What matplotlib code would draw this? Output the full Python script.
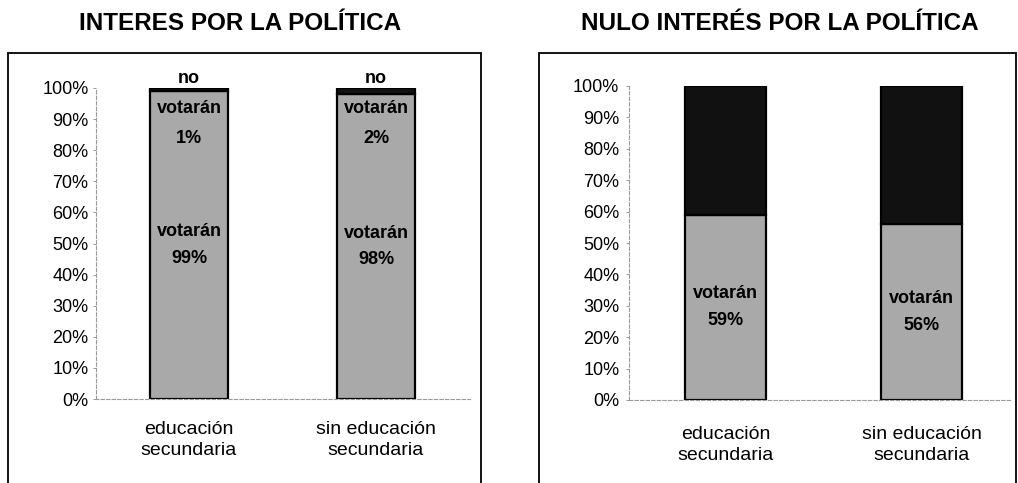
import matplotlib.pyplot as plt
from matplotlib.patches import Rectangle

plt.rcParams["font.family"] = ["Liberation Sans", "DejaVu Sans"]

categories = ["educación\nsecundaria", "sin educación\nsecundaria"]
interes_votaran = [0.99, 0.98]
interes_no_votaran = [0.01, 0.02]
nulo_votaran = [0.59, 0.56]
nulo_no_votaran = [0.41, 0.44]
yticks = [i / 10 for i in range(11)]
ytick_labels = [f"{int(t * 100)}%" for t in yticks]

GRAY = "#a9a9a9"
DARK = "#111111"
W, H = 1018, 483

fig = plt.figure(figsize=(W / 100, H / 100), dpi=100)

# outer frames of the two panels (bottom edge runs off the picture)
for x0, x1 in [(8, 481), (539, 1016)]:
    fig.patches.append(Rectangle((x0 / W, -0.05), (x1 - x0) / W, (H - 53) / H + 0.05,
                                 transform=fig.transFigure, fill=False,
                                 edgecolor="black", linewidth=1.3))


def panel(rect, xlim, votaran, no_votaran, title, title_x, label_top, tick_pad, cat_pad):
    ax = fig.add_axes(rect)
    xs = range(len(categories))
    ax.bar(xs, votaran, width=0.415, color=GRAY, edgecolor="black", linewidth=1.6)
    ax.bar(xs, no_votaran, bottom=votaran, width=0.415, color=DARK,
           edgecolor="black", linewidth=1.6)
    for x, v in zip(xs, votaran):
        ax.text(x, v / 2, f"votarán\n{round(v * 100)}%", ha="center", va="center",
                fontsize=13, fontweight="bold", linespacing=1.75)
    if label_top:
        for x, v, n in zip(xs, votaran, no_votaran):
            ax.text(x, min(v + n / 2, 0.935), f"no\nvotarán\n{round(n * 100)}%",
                    ha="center", va="center", fontsize=13, fontweight="bold",
                    linespacing=2.0)
    ax.set_ylim(0, 1)
    ax.set_xlim(*xlim)
    ax.set_yticks(yticks, ytick_labels, fontsize=13)
    ax.set_xticks(list(xs), categories, fontsize=14, linespacing=1.27)
    ax.tick_params(axis="y", length=2, width=0.6, color="#888888", pad=tick_pad)
    ax.tick_params(axis="x", length=0, pad=cat_pad)
    for s in ["top", "right"]:
        ax.spines[s].set_visible(False)
    for s in ["left", "bottom"]:
        ax.spines[s].set_color("#999999")
        ax.spines[s].set_linewidth(0.8)
        ax.spines[s].set_linestyle((0, (3, 2)))
    fig.text(title_x / W, 1 - 24 / H, title, ha="center", va="center",
             fontsize=17.5, fontweight="bold")
    return ax


panel([95.5 / W, 84 / H, 374 / W, 311 / H], (-0.5, 1.5),
      interes_votaran, interes_no_votaran, "INTERES POR LA POLÍTICA", 240, True, 3, 16)
panel([629 / W, 83 / H, 381 / W, 314 / H], (-0.492, 1.45),
      nulo_votaran, nulo_no_votaran, "NULO INTERÉS POR LA POLÍTICA", 780, False, 5, 19)

fig.savefig("out.png", dpi=100)
